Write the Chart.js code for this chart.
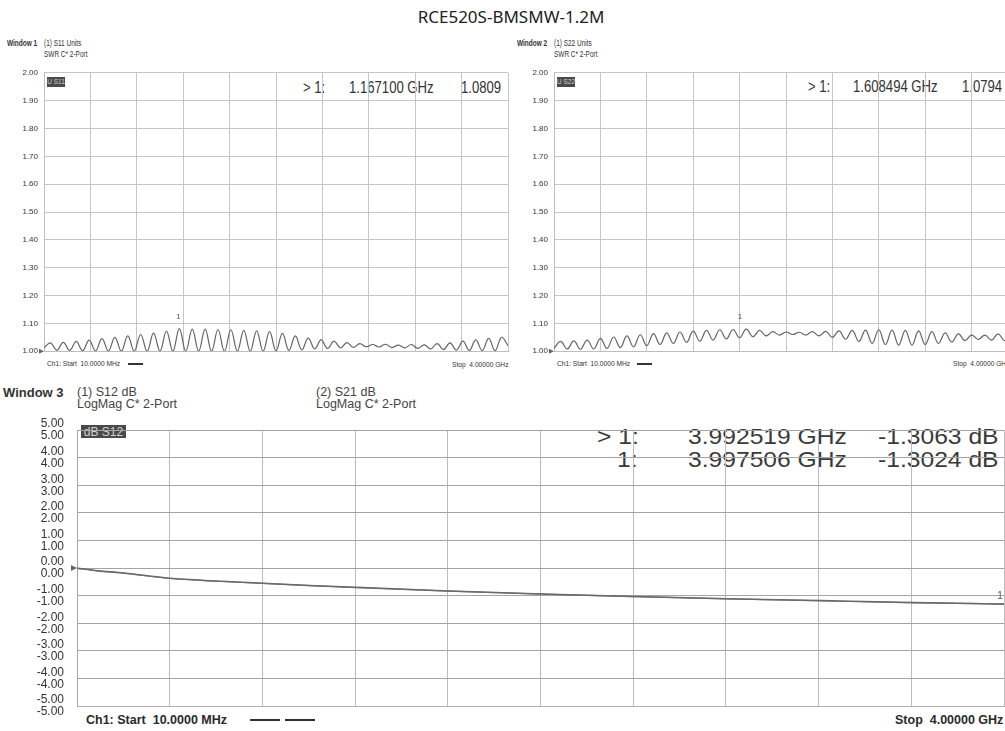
<!DOCTYPE html>
<html>
<head>
<meta charset="utf-8">
<title>RCE520S-BMSMW-1.2M</title>
<script src="https://cdn.jsdelivr.net/npm/chart.js@4.4.1/dist/chart.umd.min.js"></script>
<style>
  html, body { margin: 0; padding: 0; background: #fff; }
  #page { position: relative; width: 1005px; height: 731px; overflow: hidden; font-family: "Liberation Sans", Arial, sans-serif; color: #333; }
  canvas { position: absolute; }
  .t { position: absolute; white-space: nowrap; line-height: 1; transform-origin: left center; }
  .hdr { font-size: 8.5px; color: #333; transform: scaleX(0.76); }
  .foot { font-size: 8px; color: #333; transform: scaleX(0.83); }
  .ro { font-size: 16px; color: #333; transform: scaleX(0.82); }
  .ro3 { font-size: 22px; color: #3a3a3a; transform: scaleX(1.12); }
  .badge { position: absolute; background: #4a4a4a; color: #d0d0d0; line-height: 1; text-align: center; white-space: nowrap; box-sizing: border-box; }
  .dash { position: absolute; background: #333; }
</style>
</head>
<body>
<div id="page">
  <div class="t" id="title" style="left:0;width:1022px;text-align:center;top:8px;font-family:'Noto Sans',sans-serif;font-size:17px;color:#222;"></div>

  <!-- Window 1 -->
  <div class="t hdr" style="left:7px;top:39px;font-weight:bold;">Window 1</div>
  <div class="t hdr" style="left:44px;top:39px;">(1) S11 Units</div>
  <div class="t hdr" style="left:44px;top:50px;">SWR C* 2-Port</div>
  <div class="badge" style="left:47px;top:77px;width:18px;height:10px;font-size:6.5px;padding-top:2px;">U S11</div>
  <div class="t ro" style="left:303px;top:80px;">&gt; 1:</div>
  <div class="t ro" style="left:349px;top:80px;">1.167100 GHz</div>
  <div class="t ro" style="left:461px;top:80px;">1.0809</div>
  <div class="t foot" style="left:47px;top:360px;">Ch1: Start&nbsp; 10.0000 MHz</div>
  <div class="dash" style="left:128px;top:363px;width:15px;height:1.5px;"></div>
  <div class="t foot" style="left:452px;top:361px;">Stop&nbsp; 4.00000 GHz</div>

  <!-- Window 2 -->
  <div class="t hdr" style="left:517px;top:39px;font-weight:bold;">Window 2</div>
  <div class="t hdr" style="left:554px;top:39px;">(1) S22 Units</div>
  <div class="t hdr" style="left:554px;top:50px;">SWR C* 2-Port</div>
  <div class="badge" style="left:557px;top:77px;width:18px;height:10px;font-size:6.5px;padding-top:2px;">U S22</div>
  <div class="t ro" style="left:808px;top:79px;">&gt; 1:</div>
  <div class="t ro" style="left:853px;top:79px;">1.608494 GHz</div>
  <div class="t ro" style="left:962px;top:79px;">1.0794</div>
  <div class="t foot" style="left:557px;top:360px;">Ch1: Start&nbsp; 10.0000 MHz</div>
  <div class="dash" style="left:637px;top:363px;width:15px;height:1.5px;"></div>
  <div class="t foot" style="left:953px;top:360px;">Stop&nbsp; 4.00000 GHz</div>

  <!-- Window 3 -->
  <div class="t" style="left:3px;top:386px;font-size:13px;font-weight:bold;color:#333;">Window 3</div>
  <div class="t" style="left:77px;top:386px;font-size:12.5px;color:#444;">(1) S12 dB</div>
  <div class="t" style="left:77px;top:398px;font-size:12.5px;color:#444;">LogMag C* 2-Port</div>
  <div class="t" style="left:316px;top:386px;font-size:12.5px;color:#444;">(2) S21 dB</div>
  <div class="t" style="left:316px;top:398px;font-size:12.5px;color:#444;">LogMag C* 2-Port</div>
  <div class="badge" style="left:81px;top:425px;width:45px;height:13px;font-size:12px;padding-top:1px;">dB S12</div>
  <div class="t ro3" style="left:597px;top:426px;">&gt; 1:</div>
  <div class="t ro3" style="left:688px;top:426px;">3.992519 GHz</div>
  <div class="t ro3" style="left:878px;top:426px;">-1.3063 dB</div>
  <div class="t ro3" style="left:617px;top:449px;">1:</div>
  <div class="t ro3" style="left:688px;top:449px;">3.997506 GHz</div>
  <div class="t ro3" style="left:878px;top:449px;">-1.3024 dB</div>
  <div class="t" style="left:86px;top:714px;font-size:12.5px;font-weight:bold;color:#2a2a2a;">Ch1: Start&nbsp; 10.0000 MHz</div>
  <div class="dash" style="left:250px;top:719px;width:30px;height:2px;"></div>
  <div class="dash" style="left:285px;top:719px;width:30px;height:2px;"></div>
  <div class="t" style="left:895px;top:714px;font-size:12.5px;font-weight:bold;color:#2a2a2a;">Stop&nbsp; 4.00000 GHz</div>

  <canvas id="w1" width="520" height="300" style="left:0;top:62px;"></canvas>
  <canvas id="w2" width="520" height="300" style="left:510px;top:62px;"></canvas>
  <canvas id="w3" width="1005" height="326" style="left:0;top:405px;"></canvas>
</div>

<script>
const chartTitle = "RCE520S-BMSMW-1.2M";
const startGHz = 0.01;
const stopGHz = 4.0;

const swrTicks = [1.00, 1.10, 1.20, 1.30, 1.40, 1.50, 1.60, 1.70, 1.80, 1.90, 2.00];
const dbTicks = [5, 4, 3, 2, 1, 0, -1, -2, -3, -4, -5];

// S11 SWR: trough, peak, trough, peak ... evenly over the sweep
const s11Swr = [
    1.012,
    1.030, 1.004, 1.032, 1.003, 1.035, 1.002, 1.040, 1.001, 1.045, 1.001,
    1.050, 1.000, 1.055, 1.000, 1.060, 1.000, 1.065, 1.000, 1.072, 1.000,
    1.081, 1.000, 1.079, 1.000, 1.079, 1.000, 1.078, 1.000, 1.077, 1.000,
    1.075, 1.000, 1.073, 1.000, 1.070, 1.001, 1.064, 1.003, 1.055, 1.005,
    1.047, 1.008, 1.041, 1.010, 1.036, 1.012, 1.031, 1.014, 1.027, 1.016,
    1.024, 1.015, 1.025, 1.013, 1.022, 1.012, 1.024, 1.010, 1.023, 1.008,
    1.027, 1.006, 1.030, 1.004, 1.036, 1.003, 1.041, 1.002, 1.046, 1.002,
    1.050, 1.020
];

// S22 SWR
const s22Swr = [
    1.010,
    1.035, 1.008, 1.037, 1.007, 1.040, 1.008, 1.046, 1.010, 1.051, 1.013,
    1.055, 1.016, 1.059, 1.020, 1.063, 1.024, 1.066, 1.028, 1.069, 1.032,
    1.072, 1.036, 1.075, 1.040, 1.077, 1.044, 1.078, 1.048, 1.079, 1.052,
    1.075, 1.055, 1.070, 1.058, 1.069, 1.060, 1.068, 1.058, 1.070, 1.055,
    1.071, 1.050, 1.073, 1.043, 1.075, 1.035, 1.076, 1.028, 1.077, 1.024,
    1.076, 1.022, 1.075, 1.022, 1.073, 1.024, 1.070, 1.028, 1.066, 1.033,
    1.062, 1.038, 1.058, 1.042, 1.058, 1.040, 1.062, 1.038, 1.058, 1.045
];

// S12 / S21 insertion loss
const s12Freq = [0.01, 0.10, 0.20, 0.41, 0.61, 0.81, 1.01, 1.21, 1.61, 2.01, 2.41, 2.81, 3.21, 3.61, 4.00];
const s12Db   = [0.00, -0.10, -0.17, -0.37, -0.47, -0.55, -0.63, -0.70, -0.83, -0.94, -1.03, -1.11, -1.18, -1.25, -1.31];
const s21Db   = [-0.01, -0.11, -0.18, -0.38, -0.48, -0.56, -0.64, -0.71, -0.84, -0.95, -1.04, -1.12, -1.19, -1.26, -1.30];

const s11Marker = { f: 1.167100, v: 1.0809 };
const s22Marker = { f: 1.608494, v: 1.0794 };
const s12Marker = { f: 3.992519, v: -1.3063 };

document.getElementById("title").textContent = chartTitle;

const divisions = Array.from({ length: 11 }, (_, i) => startGHz + i * (stopGHz - startGHz) / 10);

function sweep(values) {
    return values.map((v, i) => ({ x: startGHz + i * (stopGHz - startGHz) / (values.length - 1), y: v }));
}

// reference arrow on the left edge and marker number above the trace
const vnaMarks = {
    id: "vnaMarks",
    afterDatasetsDraw(chart, args, opts) {
        const { ctx, chartArea } = chart;
        const x = chart.scales.x, y = chart.scales.y;
        ctx.save();
        ctx.fillStyle = "#666";
        const ry = y.getPixelForValue(opts.ref);
        ctx.beginPath();
        ctx.moveTo(chartArea.left - opts.arrow, ry - opts.arrow / 2);
        ctx.lineTo(chartArea.left, ry);
        ctx.lineTo(chartArea.left - opts.arrow, ry + opts.arrow / 2);
        ctx.closePath();
        ctx.fill();
        ctx.fillStyle = "#555";
        ctx.font = opts.font;
        ctx.textAlign = "center";
        ctx.textBaseline = "bottom";
        ctx.fillText("1", Math.min(x.getPixelForValue(opts.marker.f), chartArea.right - 4), y.getPixelForValue(opts.marker.v) - opts.lift);
        ctx.restore();
    }
};

function swrChart(id, values, marker) {
    return new Chart(document.getElementById(id), {
        type: "line",
        data: {
            datasets: [{
                data: sweep(values),
                borderColor: "#646464",
                borderWidth: 1.2,
                pointRadius: 0,
                tension: 0.4
            }]
        },
        options: {
            responsive: false,
            animation: false,
            layout: { padding: { top: 10, bottom: 6, left: 0, right: 12 } },
            plugins: {
                legend: { display: false },
                tooltip: { enabled: false },
                vnaMarks: { ref: 1.0, arrow: 5, marker: marker, font: "8px 'Liberation Sans'", lift: 8 }
            },
            scales: {
                x: {
                    type: "linear", min: startGHz, max: stopGHz,
                    afterBuildTicks: s => { s.ticks = divisions.map(v => ({ value: v })); },
                    afterFit: s => { s.height = 0; },
                    ticks: { display: false },
                    grid: { color: "#c6c6c6", drawTicks: false },
                    border: { color: "#bdbdbd" }
                },
                y: {
                    min: 1.0, max: 2.0,
                    afterBuildTicks: s => { s.ticks = swrTicks.map(v => ({ value: v })); },
                    afterFit: s => { s.width = 44; },
                    ticks: {
                        autoSkip: false, padding: 6, color: "#333",
                        font: { family: "'Liberation Sans'", size: 8 },
                        callback: v => v.toFixed(2)
                    },
                    grid: { color: "#c6c6c6", drawTicks: false },
                    border: { color: "#bdbdbd" }
                }
            }
        },
        plugins: [vnaMarks]
    });
}

swrChart("w1", s11Swr, s11Marker);
swrChart("w2", s22Swr, s22Marker);

new Chart(document.getElementById("w3"), {
    type: "line",
    data: {
        datasets: [
            { label: "S12", data: s12Freq.map((f, i) => ({ x: f, y: s12Db[i] })), borderColor: "#6a6a6a", borderWidth: 1.5, pointRadius: 0, cubicInterpolationMode: "monotone" },
            { label: "S21", data: s12Freq.map((f, i) => ({ x: f, y: s21Db[i] })), borderColor: "#7a7a7a", borderWidth: 1.2, pointRadius: 0, cubicInterpolationMode: "monotone" }
        ]
    },
    options: {
        responsive: false,
        animation: false,
        layout: { padding: { top: 17, bottom: 18, left: 0, right: 1 } },
        plugins: {
            legend: { display: false },
            tooltip: { enabled: false },
            vnaMarks: { ref: 0, arrow: 6, marker: s12Marker, font: "10px 'Liberation Sans'", lift: 3 }
        },
        scales: {
            x: {
                type: "linear", min: startGHz, max: stopGHz,
                afterBuildTicks: s => { s.ticks = divisions.map(v => ({ value: v })); },
                afterFit: s => { s.height = 0; },
                ticks: { display: false },
                grid: { color: "#bcbcbc", drawTicks: false },
                border: { color: "#b0b0b0" }
            },
            y: {
                min: -5, max: 5,
                afterBuildTicks: s => { s.ticks = dbTicks.map(v => ({ value: v })); },
                afterFit: s => { s.width = 77; },
                ticks: {
                    autoSkip: false, padding: 13, color: "#333",
                    font: { family: "'Liberation Sans', Arial", size: 12, lineHeight: 1.0 },
                    callback: v => [v.toFixed(2), v.toFixed(2)]
                },
                grid: { color: "#a4a4a4", drawTicks: false },
                border: { color: "#a4a4a4" }
            }
        }
    },
    plugins: [vnaMarks]
});
</script>
</body>
</html>
